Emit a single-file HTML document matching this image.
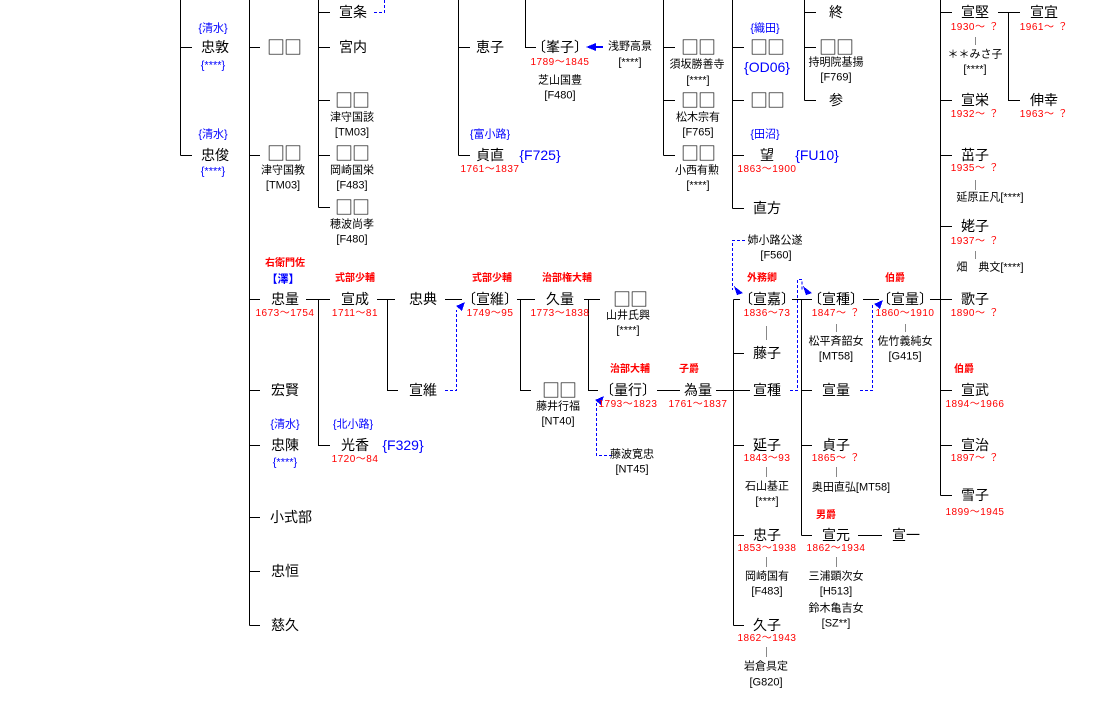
<!DOCTYPE html>
<html><head><meta charset="utf-8"><style>
body{margin:0;background:#fff;}
#c{position:relative;width:1115px;height:709px;overflow:hidden;font-family:"Liberation Sans","Noto Sans CJK JP",sans-serif;}
#c div{position:absolute;transform:translate(-50%,-50%);white-space:nowrap;line-height:1;}
.m{font-size:14px;color:#000;}
.q{font-family:"Noto Sans CJK JP",sans-serif !important;font-size:18px !important;letter-spacing:-1px;}
.s{font-size:11px;color:#000;}
.r{font-size:10px;color:#f00;letter-spacing:0.5px;}
.rb{font-size:10px;color:#f00;font-weight:bold;}
.b{font-size:11px;color:#00f;}
.B{font-size:14px;color:#00f;}
svg{position:absolute;left:0;top:0;}
</style></head><body><div id="c">
<svg width="1115" height="709" shape-rendering="crispEdges">
<g stroke="#000" stroke-width="1" fill="none">
<path d="M180.5 0V155.5M180.5 47.5H192M180.5 155.5H192"/>
<path d="M249.5 0V625.5M249.5 47.5H260M249.5 155.5H260M249.5 299.5H260M249.5 390.5H260M249.5 445.5H260M249.5 517.5H260M249.5 571.5H260M249.5 625.5H260"/>
<path d="M318.5 0V207.5M318.5 12.5H330M318.5 47.5H330M318.5 100.5H330M318.5 155.5H330M318.5 207.5H330"/>
<path d="M458.5 0V155.5M458.5 47.5H470M458.5 155.5H470"/>
<path d="M525.5 0V47.5H536"/>
<path d="M663.5 0V155.5M663.5 47.5H675M663.5 100.5H675M663.5 155.5H675"/>
<path d="M732.5 0V208.5M732.5 47.5H744M732.5 100.5H744M732.5 155.5H744M732.5 208.5H744"/>
<path d="M804.5 0V100.5M804.5 12.5H816M804.5 47.5H816M804.5 100.5H816"/>
<path d="M940.5 0V495.5M940.5 12.5H952M940.5 100.5H952M940.5 155.5H952M940.5 226.5H952M940.5 299.5H952M940.5 390.5H952M940.5 445.5H952M940.5 495.5H952"/>
<path d="M998 12.5H1020M1008.5 12.5V100.5H1020"/>
<path d="M306 299.5H330M318.5 299.5V445.5H330"/>
<path d="M377 299.5H395M387.5 299.5V390.5H398"/>
<path d="M445 299.5H462"/>
<path d="M517 299.5H535M520.5 299.5V390.5H531"/>
<path d="M584 299.5H600M588.5 299.5V390.5H598"/>
<path d="M657 390.5H680"/>
<path d="M716 390.5H750M733.5 299.5V625.5M733.5 299.5H740M733.5 353.5H744M733.5 445.5H744M733.5 535.5H744M733.5 625.5H744"/>
<path d="M792 299.5H812M801.5 299.5V535.5M801.5 390.5H812M801.5 445.5H812M801.5 535.5H812"/>
<path d="M863 299.5H879"/>
<path d="M930 299.5H948"/>
<path d="M858 535.5H882"/>
</g>
<g stroke="#888" stroke-width="1">
<path d="M766.5 326V340M766.5 467V477M766.5 557V567M766.5 647V657M836.5 324V332M836.5 467V477M836.5 557V567M905.5 324V332M975.5 37V45M975.5 180V190M975.5 251V259"/>
</g>
<g stroke="#00f" stroke-width="1" fill="none" stroke-dasharray="3,2">
<path d="M374 12.5H384.5V0"/>
<path d="M445 390.5H456.5V310"/>
<path d="M790 390.5H797.5V279.5H802V290"/>
<path d="M860 390.5H872.5V305"/>
<path d="M745 240.5H732.5V290"/>
<path d="M612 455.5H596.5V402"/>
</g>
<g fill="#00f">
<polygon points="586,47 596,43 596,51"/>
<path d="M596 47H603" stroke="#00f" stroke-width="2"/>
<polygon points="465,302 456,306 462,311"/>
<polygon points="743,293 734,286 737,295"/>
<polygon points="812,293 803,286 806,295"/>
<polygon points="883,300 874,304 880,309"/>
<polygon points="604,396 595,400 601,405"/>
</g>
</svg>

<div class="b" style="left:213px;top:29px">{清水}</div>
<div class="m" style="left:215px;top:47px">忠敦</div>
<div class="b" style="left:213px;top:66px">{****}</div>
<div class="b" style="left:213px;top:135px">{清水}</div>
<div class="m" style="left:215px;top:155px">忠俊</div>
<div class="b" style="left:213px;top:172px">{****}</div>

<div class="m q" style="left:284px;top:47px">□□</div>
<div class="m q" style="left:284px;top:153px">□□</div>
<div class="s" style="left:283px;top:171px">津守国教</div>
<div class="s" style="left:283px;top:186px">[TM03]</div>

<div class="rb" style="left:285px;top:264px">右衛門佐</div>
<div class="b" style="left:283px;top:280px;font-weight:bold">【澤】</div>
<div class="m" style="left:285px;top:299px">忠量</div>
<div class="r" style="left:285px;top:314px">1673～1754</div>
<div class="m" style="left:285px;top:390px">宏賢</div>
<div class="b" style="left:285px;top:425px">{清水}</div>
<div class="m" style="left:285px;top:445px">忠陳</div>
<div class="b" style="left:285px;top:463px">{****}</div>
<div class="m" style="left:291px;top:517px">小式部</div>
<div class="m" style="left:285px;top:571px">忠恒</div>
<div class="m" style="left:285px;top:625px">慈久</div>

<div class="m" style="left:353px;top:12px">宣条</div>
<div class="m" style="left:353px;top:47px">宮内</div>
<div class="m q" style="left:352px;top:100px">□□</div>
<div class="s" style="left:352px;top:118px">津守国該</div>
<div class="s" style="left:352px;top:133px">[TM03]</div>
<div class="m q" style="left:352px;top:153px">□□</div>
<div class="s" style="left:352px;top:171px">岡崎国栄</div>
<div class="s" style="left:352px;top:186px">[F483]</div>
<div class="m q" style="left:352px;top:207px">□□</div>
<div class="s" style="left:352px;top:225px">穂波尚孝</div>
<div class="s" style="left:352px;top:240px">[F480]</div>

<div class="rb" style="left:355px;top:279px">式部少輔</div>
<div class="m" style="left:355px;top:299px">宣成</div>
<div class="r" style="left:355px;top:314px">1711～81</div>
<div class="b" style="left:353px;top:425px">{北小路}</div>
<div class="m" style="left:355px;top:445px">光香</div>
<div class="B" style="left:403px;top:445px">{F329}</div>
<div class="r" style="left:355px;top:460px">1720～84</div>

<div class="m" style="left:490px;top:47px">恵子</div>
<div class="b" style="left:490px;top:135px">{富小路}</div>
<div class="m" style="left:490px;top:155px">貞直</div>
<div class="B" style="left:540px;top:155px">{F725}</div>
<div class="r" style="left:490px;top:170px">1761～1837</div>

<div class="m" style="left:423px;top:299px">忠典</div>
<div class="m" style="left:423px;top:390px">宣維</div>
<div class="rb" style="left:492px;top:279px">式部少輔</div>
<div class="m" style="left:490px;top:299px">〔宣維〕</div>
<div class="r" style="left:490px;top:314px">1749～95</div>

<div class="m" style="left:560px;top:47px">〔峯子〕</div>
<div class="r" style="left:560px;top:63px">1789～1845</div>
<div class="s" style="left:560px;top:81px">芝山国豊</div>
<div class="s" style="left:560px;top:96px">[F480]</div>
<div class="s" style="left:630px;top:47px">浅野高景</div>
<div class="s" style="left:630px;top:63px">[****]</div>

<div class="rb" style="left:567px;top:279px">治部権大輔</div>
<div class="m" style="left:560px;top:299px">久量</div>
<div class="r" style="left:560px;top:314px">1773～1838</div>
<div class="m q" style="left:559px;top:390px">□□</div>
<div class="s" style="left:558px;top:407px">藤井行福</div>
<div class="s" style="left:558px;top:422px">[NT40]</div>
<div class="m q" style="left:630px;top:299px">□□</div>
<div class="s" style="left:628px;top:316px">山井氏興</div>
<div class="s" style="left:628px;top:331px">[****]</div>
<div class="rb" style="left:630px;top:370px">治部大輔</div>
<div class="m" style="left:628px;top:390px">〔量行〕</div>
<div class="r" style="left:628px;top:405px">1793～1823</div>
<div class="s" style="left:632px;top:455px">藤波寛忠</div>
<div class="s" style="left:632px;top:470px">[NT45]</div>
<div class="rb" style="left:689px;top:370px">子爵</div>
<div class="m" style="left:698px;top:390px">為量</div>
<div class="r" style="left:698px;top:405px">1761～1837</div>

<div class="m q" style="left:698px;top:47px">□□</div>
<div class="s" style="left:697px;top:65px">須坂勝善寺</div>
<div class="s" style="left:698px;top:81px">[****]</div>
<div class="m q" style="left:698px;top:100px">□□</div>
<div class="s" style="left:698px;top:118px">松木宗有</div>
<div class="s" style="left:698px;top:133px">[F765]</div>
<div class="m q" style="left:698px;top:153px">□□</div>
<div class="s" style="left:697px;top:171px">小西有勲</div>
<div class="s" style="left:698px;top:186px">[****]</div>

<div class="b" style="left:765px;top:29px">{織田}</div>
<div class="m q" style="left:767px;top:47px">□□</div>
<div class="B" style="left:767px;top:67px">{OD06}</div>
<div class="m q" style="left:767px;top:100px">□□</div>
<div class="b" style="left:765px;top:135px">{田沼}</div>
<div class="m" style="left:767px;top:155px">望</div>
<div class="B" style="left:817px;top:155px">{FU10}</div>
<div class="r" style="left:767px;top:170px">1863～1900</div>
<div class="m" style="left:767px;top:208px">直方</div>

<div class="m" style="left:836px;top:12px">終</div>
<div class="m q" style="left:836px;top:47px">□□</div>
<div class="s" style="left:836px;top:63px">持明院基揚</div>
<div class="s" style="left:836px;top:78px">[F769]</div>
<div class="m" style="left:836px;top:100px">参</div>

<div class="s" style="left:775px;top:241px">姉小路公遂</div>
<div class="s" style="left:776px;top:256px">[F560]</div>
<div class="rb" style="left:762px;top:279px">外務卿</div>
<div class="m" style="left:767px;top:299px">〔宣嘉〕</div>
<div class="r" style="left:767px;top:314px">1836～73</div>
<div class="m" style="left:767px;top:353px">藤子</div>
<div class="m" style="left:767px;top:390px">宣種</div>
<div class="m" style="left:767px;top:445px">延子</div>
<div class="r" style="left:767px;top:459px">1843～93</div>
<div class="s" style="left:767px;top:487px">石山基正</div>
<div class="s" style="left:767px;top:502px">[****]</div>
<div class="m" style="left:767px;top:535px">忠子</div>
<div class="r" style="left:767px;top:549px">1853～1938</div>
<div class="s" style="left:767px;top:577px">岡崎国有</div>
<div class="s" style="left:767px;top:592px">[F483]</div>
<div class="m" style="left:767px;top:625px">久子</div>
<div class="r" style="left:767px;top:639px">1862～1943</div>
<div class="s" style="left:766px;top:667px">岩倉具定</div>
<div class="s" style="left:766px;top:683px">[G820]</div>

<div class="m" style="left:836px;top:299px">〔宣種〕</div>
<div class="r" style="left:836px;top:314px">1847～ ？</div>
<div class="s" style="left:836px;top:342px">松平斉韶女</div>
<div class="s" style="left:836px;top:357px">[MT58]</div>
<div class="m" style="left:836px;top:390px">宣量</div>
<div class="m" style="left:836px;top:445px">貞子</div>
<div class="r" style="left:836px;top:459px">1865～ ？</div>
<div class="s" style="left:851px;top:488px">奥田直弘[MT58]</div>
<div class="rb" style="left:826px;top:516px">男爵</div>
<div class="m" style="left:836px;top:535px">宣元</div>
<div class="r" style="left:836px;top:549px">1862～1934</div>
<div class="s" style="left:836px;top:577px">三浦顕次女</div>
<div class="s" style="left:836px;top:592px">[H513]</div>
<div class="s" style="left:836px;top:609px">鈴木亀吉女</div>
<div class="s" style="left:836px;top:624px">[SZ**]</div>
<div class="m" style="left:906px;top:535px">宣一</div>

<div class="rb" style="left:895px;top:279px">伯爵</div>
<div class="m" style="left:905px;top:299px">〔宣量〕</div>
<div class="r" style="left:905px;top:314px">1860～1910</div>
<div class="s" style="left:905px;top:342px">佐竹義純女</div>
<div class="s" style="left:905px;top:357px">[G415]</div>

<div class="m" style="left:975px;top:12px">宣堅</div>
<div class="r" style="left:975px;top:28px">1930～ ？</div>
<div class="s" style="left:975px;top:55px">＊＊みさ子</div>
<div class="s" style="left:975px;top:70px">[****]</div>
<div class="m" style="left:975px;top:100px">宣栄</div>
<div class="r" style="left:975px;top:115px">1932～ ？</div>
<div class="m" style="left:975px;top:155px">茁子</div>
<div class="r" style="left:975px;top:169px">1935～ ？</div>
<div class="s" style="left:990px;top:198px">延原正凡[****]</div>
<div class="m" style="left:975px;top:226px">姥子</div>
<div class="r" style="left:975px;top:242px">1937～ ？</div>
<div class="s" style="left:990px;top:268px">畑　典文[****]</div>
<div class="m" style="left:975px;top:299px">歌子</div>
<div class="r" style="left:975px;top:314px">1890～ ？</div>
<div class="rb" style="left:964px;top:370px">伯爵</div>
<div class="m" style="left:975px;top:390px">宣武</div>
<div class="r" style="left:975px;top:405px">1894～1966</div>
<div class="m" style="left:975px;top:445px">宣治</div>
<div class="r" style="left:975px;top:459px">1897～ ？</div>
<div class="m" style="left:975px;top:495px">雪子</div>
<div class="r" style="left:975px;top:513px">1899～1945</div>

<div class="m" style="left:1044px;top:12px">宣宜</div>
<div class="r" style="left:1044px;top:28px">1961～ ？</div>
<div class="m" style="left:1044px;top:100px">伸幸</div>
<div class="r" style="left:1044px;top:115px">1963～ ？</div>
</div></body></html>
